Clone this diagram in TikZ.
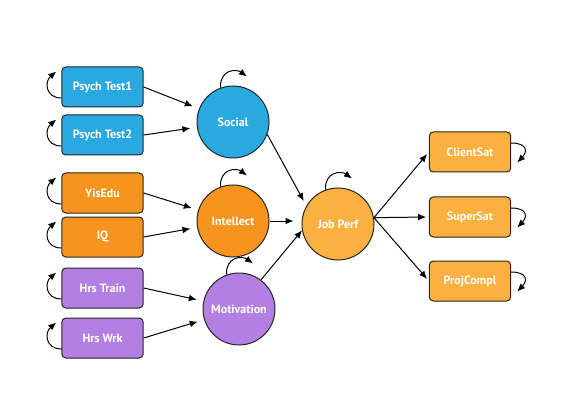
\documentclass[tikz,border=0pt]{standalone}
\usepackage{fontspec}
\setmainfont{PT Sans}
\usetikzlibrary{arrows.meta,calc}
\definecolor{obsblue}{HTML}{29A9E0}
\definecolor{obsorange}{HTML}{F7941E}
\definecolor{obspurple}{HTML}{B47FE2}
\definecolor{perfgold}{HTML}{FBB040}
\tikzset{
  obs/.style={draw=black!85,rectangle,rounded corners=3pt,minimum width=61pt,minimum height=30pt,align=center,text=white,font=\bfseries\fontsize{9}{10}\selectfont},
  latent/.style={draw=black!85,circle,minimum size=54pt,inner sep=0pt,text=white,font=\bfseries\fontsize{9}{10}\selectfont},
  link/.style={->,shorten >=2pt}
}

\begin{document}
\begin{tikzpicture}[x=0.75pt,y=-0.75pt,>={Latex[length=6pt,width=5pt]},line width=0.75pt]
  \useasboundingbox (0,0) rectangle (570,420);
  % indicators
  \node[obs,fill=obsblue] (pt1) at (102.5,87) {Psych Test1};
  \node[obs,fill=obsblue] (pt2) at (102.5,135) {Psych Test2};
  \node[obs,fill=obsorange] (yis) at (102.5,193) {YisEdu};
  \node[obs,fill=obsorange] (iq) at (102.5,237) {IQ};
  \node[obs,fill=obspurple] (hrt) at (102.5,288) {Hrs Train};
  \node[obs,fill=obspurple] (hrw) at (102.5,338) {Hrs Wrk};
  % latent factors
  \node[latent,fill=obsblue] (soc) at (233,122) {Social};
  \node[latent,fill=obsorange] (int) at (233,221) {Intellect};
  \node[latent,fill=obspurple] (mot) at (239,309) {Motivation};
  \node[latent,fill=perfgold] (job) at (338,224) {Job Perf};
  % outcomes
  \node[obs,fill=perfgold] (cli) at (470,152) {ClientSat};
  \node[obs,fill=perfgold] (sup) at (470,217) {SuperSat};
  \node[obs,fill=perfgold] (prj) at (470,281) {ProjCompl};

  \draw[link,shorten >=5pt] (pt1.east) -- (soc);
  \draw[link,shorten >=5pt] (pt2.east) -- (soc);
  \draw[link,shorten >=5pt] (yis.east) -- (int);
  \draw[link,shorten >=5pt] (iq.east) -- (int);
  \draw[link,shorten >=5pt] (hrt.east) -- (mot);
  \draw[link,shorten >=5pt] (hrw.east) -- (mot);

  \draw[link,shorten >=4pt] (soc.-20) -- (job.150);
  \draw[link,shorten >=6pt] (int.east) -- (int.east -| job.west);
  \draw[link,shorten >=0pt] (mot.53) -- (job.190);

  \coordinate (jout) at (job.10);
  \draw[link] (jout) -- (cli.west);
  \draw[link] (jout) -- (sup.west);
  \draw[link] (jout) -- (prj.west);

  % self loops
  \foreach \n in {pt1,pt2,yis,iq,hrt,hrw}
    \draw[->] ($(\n.west)+(0,11)$) .. controls +(-16,0) and +(-12,10) .. ($(\n.north west)+(-5,5)$);
  \foreach \n in {soc,int,mot,job}
    \draw[->] (\n.110) .. controls +(-1,-18) and +(-11,-8) .. ($(\n.north)+(14,-9)$);
  \foreach \n in {cli,sup,prj}
    \draw[->] ($(\n.east)+(0,-9)$) .. controls +(17,0) and +(10,-10) .. ($(\n.south east)+(6,-10)$);
\end{tikzpicture}
\end{document}
